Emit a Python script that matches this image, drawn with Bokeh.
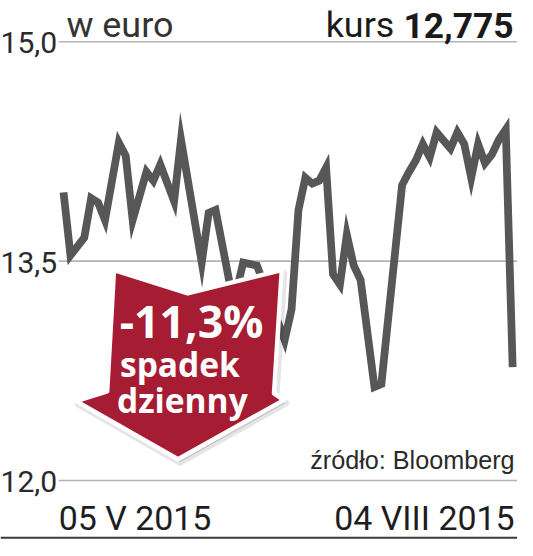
from bokeh.plotting import figure
from bokeh.models import Range1d
from bokeh.embed import file_html
from bokeh.resources import INLINE
from bokeh.core.properties import value

# ---- data ----
days = [0, 1, 3, 4, 5, 6, 8, 9, 10, 12, 13, 14, 16, 17, 20, 21, 22, 24, 25, 26, 28,
        32, 33, 34, 35, 36, 37, 38, 39, 40, 41, 42, 43, 45, 46, 49, 50, 51, 52, 53,
        54, 56, 57, 58, 59, 60, 61, 62, 63, 64, 65]
price = [13.97, 13.54, 13.66, 13.93, 13.90, 13.78, 14.31, 14.22, 13.78, 14.11, 14.05,
         14.16, 13.91, 14.33, 13.49, 13.83, 13.85, 13.36, 13.29, 13.49, 13.47,
         12.96, 13.17, 13.85, 14.07, 14.03, 14.05, 14.14, 13.41, 13.34, 13.68, 13.47,
         13.37, 12.64, 12.66, 14.02, 14.11, 14.19, 14.30, 14.21, 14.38, 14.27, 14.38,
         14.30, 14.07, 14.30, 14.17, 14.23, 14.33, 14.40, 12.775]
y_ticks = [15.0, 13.5, 12.0]
y_labels = ["15,0", "13,5", "12,0"]
date_labels = ["05 V 2015", "04 VIII 2015"]
unit_label = "w euro"
kurs_label = "kurs"
last_label = "12,775"
source_label = "źródło: Bloomberg"
arrow_lines = ["-11,3%", "spadek", "dzienny"]

# ---- layout (reference pixel grid scaled to the window) ----
W, H = 517, 540
S = W / 533.0
X0, X1 = 65.0, 528.0      # reference px of first / last trading day
Y15, PXV = 42.5, 150.8    # reference px of 15.0 and px per euro
N = days[-1]
K = 0.32                  # baseline correction (fraction of font size)


def fx(X):
    return (X - X0) * N / (X1 - X0)


def fy(Y):
    return 15.0 - (Y - Y15) / PXV


def by(Y, size):
    """data y for a text baseline at reference px Y, font size in ref px"""
    return fy(Y - K * size)


def fs(size):
    return f"{size * S:.1f}px"


p = figure(width=W, height=H,
           x_range=Range1d(fx(0), fx(W / S)),
           y_range=Range1d(fy(H / S), fy(0)),
           output_backend="svg", toolbar_location=None,
           x_axis_location=None, y_axis_location=None, min_border=0)
p.grid.visible = False
p.outline_line_color = None
p.background_fill_color = "white"
p.border_fill_color = "white"

NARROW = value("Roboto")
SANS = value("Liberation Sans")
BOLD = value("Open Sans")

# gridlines
p.segment(x0=[fx(60)] * 3, y0=y_ticks, x1=[fx(533)] * 3, y1=y_ticks,
          line_color="#b4b4b4", line_width=1.6)
# y labels (baseline ~11 ref px below each gridline)
ys = 31
p.text(x=[fx(0)] * 3, y=[t - (11 - K * ys) / PXV for t in y_ticks], text=y_labels,
       text_font=NARROW, text_font_size=fs(ys), text_color="#2a2a2a",
       text_baseline="alphabetic", text_align="left")

# header
p.text(x=[fx(68)], y=[by(37, 37)], text=[unit_label], text_font=NARROW,
       text_font_size=fs(37), text_color="#333333",
       text_baseline="alphabetic", text_align="left")
p.text(x=[fx(406)], y=[by(37, 37)], text=[kurs_label], text_font=NARROW,
       text_font_size=fs(37), text_color="#1a1a1a",
       text_baseline="alphabetic", text_align="right")
p.text(x=[fx(529)], y=[by(37, 36)], text=[last_label], text_font=NARROW,
       text_font_style="bold", text_font_size=fs(36.5), text_color="#1a1a1a",
       text_baseline="alphabetic", text_align="right")

# price line
p.line(days, price, line_color="#575757", line_width=8 * S, line_join="miter")

# arrow badge
AX = [117, 193, 290, 282, 292, 183, 78, 110]
AY = [278, 302, 278, 405, 412, 473, 413, 403]
p.patch([fx(x + 2) for x in AX], [fy(y + 3) for y in AY], fill_color="#000000",
        fill_alpha=0.15, line_color="#000000", line_alpha=0.10, line_width=7,
        line_join="round")
p.patch([fx(x) for x in AX], [fy(y) for y in AY], fill_color="#a51c33",
        line_color="white", line_width=4.5, line_join="round")
asz = [46, 34.5, 34.5]
p.text(x=[fx(197), fx(185), fx(187.5)],
       y=[by(345, asz[0]), by(386, asz[1]), by(423, asz[2])],
       text=arrow_lines, text_font=BOLD, text_font_style="bold",
       text_font_size=[fs(a) for a in asz],
       text_color="white", text_baseline="alphabetic", text_align="center")

# source
p.text(x=[fx(530)], y=[by(482, 26)], text=[source_label], text_font=SANS,
       text_font_size=fs(26), text_color="#2a2a2a",
       text_baseline="alphabetic", text_align="right")

# dates
p.text(x=[fx(60), fx(530)], y=[by(545, 35), by(545, 35)], text=date_labels,
       text_font=NARROW, text_font_size=fs(35), text_color="#1e1e1e",
       text_baseline="alphabetic", text_align=["left", "right"])

# bottom rule
p.segment(x0=[fx(0)], y0=[fy(554)], x1=[fx(533)], y1=[fy(554)],
          line_color="#3a3a3a", line_width=2)

open("out.html", "w").write(file_html(p, INLINE))
